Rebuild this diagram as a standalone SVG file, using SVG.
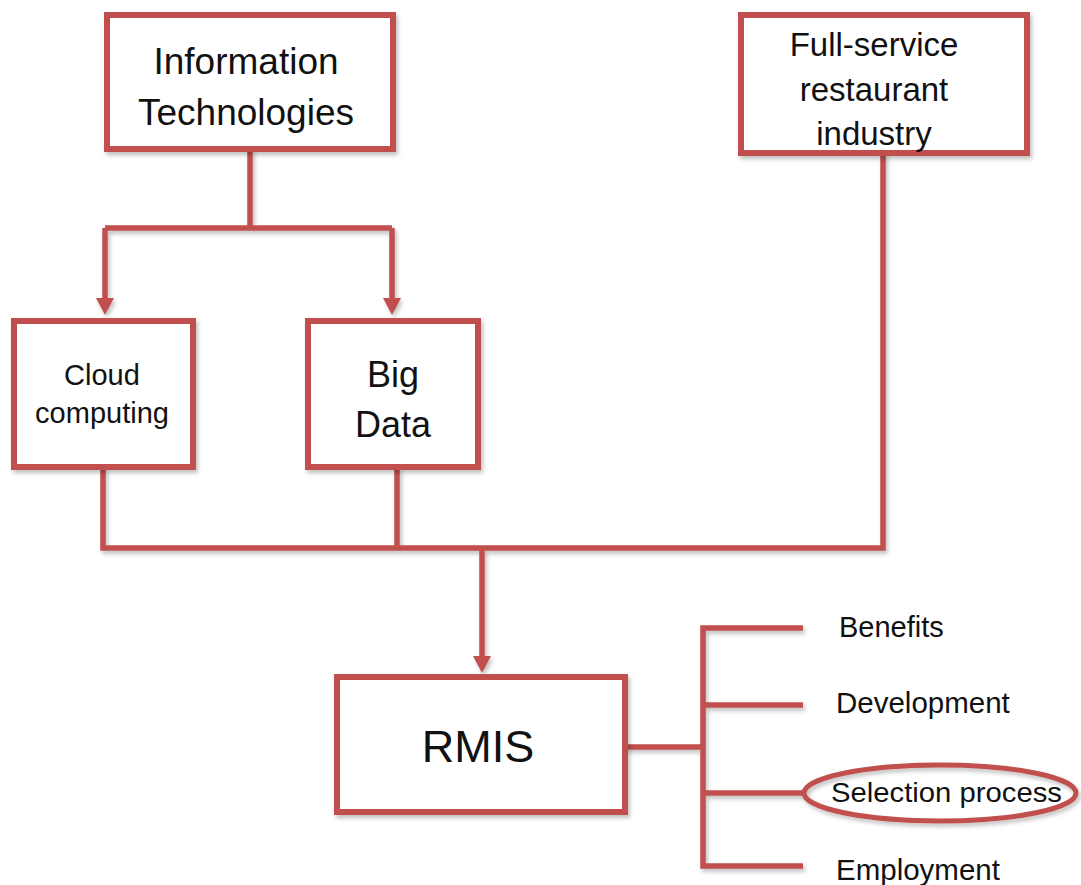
<svg xmlns="http://www.w3.org/2000/svg" width="1081" height="885" viewBox="0 0 1081 885">
  <defs>
    <filter id="shadow" x="-10%" y="-10%" width="120%" height="130%">
      <feDropShadow dx="2" dy="3" stdDeviation="2" flood-color="#000" flood-opacity="0.25"/>
    </filter>
    <!-- arrowhead: base sits at the line end, tip runs 16px further -->
    <marker id="arrow" markerUnits="userSpaceOnUse" markerWidth="20" markerHeight="20" viewBox="0 0 20 20" refX="2" refY="10" orient="auto">
      <path d="M1,1 L18,10 L1,19 Z" fill="#C0504D"/>
    </marker>
  </defs>
  <style>
    .box { fill: #fff; stroke: #C0504D; stroke-width: 6; }
    .wire { fill: none; stroke: #C0504D; stroke-width: 5.5; stroke-linejoin: miter; }
    .label { font-family: "Liberation Sans", Arial, sans-serif; fill: #111; }
    .mid { text-anchor: middle; }
  </style>
  <rect width="1081" height="885" fill="#fff"/>

  <!-- connectors -->
  <g id="connectors" filter="url(#shadow)">
    <!-- Information Technologies fork -->
    <path class="wire" d="M250,149 V228"/>
    <path class="wire" d="M105,228 H392"/>
    <path class="wire" d="M105,228 V299" marker-end="url(#arrow)"/>
    <path class="wire" d="M392,228 V299" marker-end="url(#arrow)"/>
    <!-- merge into RMIS -->
    <path class="wire" d="M103,467 V548 H883 V153"/>
    <path class="wire" d="M397,467 V548"/>
    <path class="wire" d="M482,548 V657" marker-end="url(#arrow)"/>
    <!-- RMIS outputs -->
    <path class="wire" d="M625,747 H703"/>
    <path class="wire" d="M803,628 H703 V866 H803"/>
    <path class="wire" d="M703,705 H803"/>
    <path class="wire" d="M703,793 H803"/>
  </g>

  <g id="node-it">
    <rect class="box" x="107" y="15" width="286" height="134" filter="url(#shadow)"/>
    <text class="label mid" x="246" y="74" font-size="37">Information</text>
    <text class="label mid" x="246" y="125" font-size="37">Technologies</text>
  </g>

  <g id="node-fsr">
    <rect class="box" x="741" y="15" width="286" height="138" filter="url(#shadow)"/>
    <text class="label mid" x="874" y="56" font-size="33">Full-service</text>
    <text class="label mid" x="874" y="101" font-size="33">restaurant</text>
    <text class="label mid" x="874" y="145" font-size="33">industry</text>
  </g>

  <g id="node-cloud">
    <rect class="box" x="14" y="321" width="179" height="146" filter="url(#shadow)"/>
    <text class="label mid" x="102" y="385" font-size="29">Cloud</text>
    <text class="label mid" x="102" y="423" font-size="29">computing</text>
  </g>

  <g id="node-bigdata">
    <rect class="box" x="308" y="321" width="170" height="146" filter="url(#shadow)"/>
    <text class="label mid" x="393" y="387" font-size="36">Big</text>
    <text class="label mid" x="393" y="437" font-size="36">Data</text>
  </g>

  <g id="node-rmis">
    <rect class="box" x="337" y="677" width="288" height="135" filter="url(#shadow)"/>
    <text class="label mid" x="478" y="762" font-size="45">RMIS</text>
  </g>

  <g id="node-benefits">
    <text class="label" x="839" y="637" font-size="29">Benefits</text>
  </g>
  <g id="node-development">
    <text class="label" x="836" y="713" font-size="29.5">Development</text>
  </g>
  <g id="node-selection">
    <ellipse cx="940" cy="793" rx="136" ry="28" fill="none" stroke="#C0504D" stroke-width="5" filter="url(#shadow)"/>
    <text class="label" x="831" y="802" font-size="28" textLength="231" lengthAdjust="spacingAndGlyphs">Selection process</text>
  </g>
  <g id="node-employment">
    <text class="label" x="836" y="880" font-size="29.5">Employment</text>
  </g>
</svg>
